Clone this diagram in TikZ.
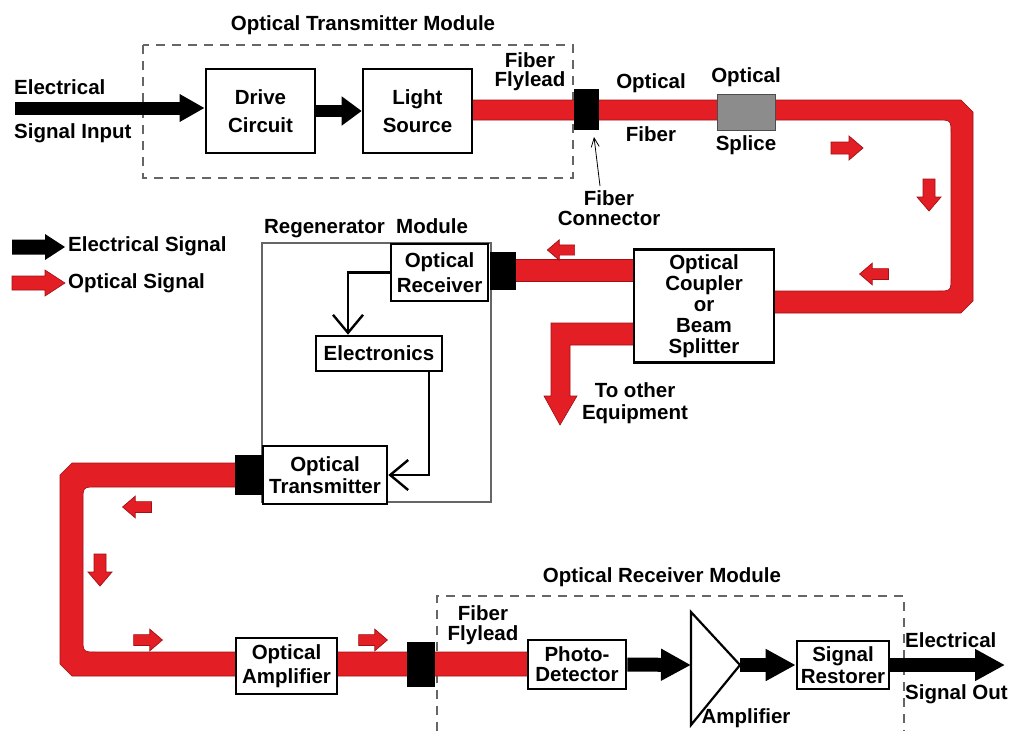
\documentclass[tikz,border=0pt]{standalone}
\usepackage{fontspec}
\setmainfont{Liberation Sans}
\usetikzlibrary{arrows.meta}
\definecolor{fibred}{HTML}{E31E24}
\definecolor{fibdark}{HTML}{A01015}
\definecolor{splgray}{HTML}{8C8C8C}
\newcommand{\tf}[1]{\fontsize{20.5}{#1}\selectfont\bfseries}
\tikzset{
  box/.style={draw, line width=2.6pt, fill=white, inner sep=0pt, align=center},
  lbl/.style={inner sep=0pt, align=center, font=\tf{22}},
  conn/.style={fill=black, inner sep=0pt},
  fib/.style={fill=fibred, draw=fibdark, line width=0.6pt},
  ebig/.style={line width=13pt, -{Triangle[length=25pt,width=26pt]}},
  emid/.style={line width=12pt, -{Triangle[length=20pt,width=28pt]}},
  erx/.style={line width=14pt, -{Triangle[length=30pt,width=30pt]}},
  eline/.style={line width=2.4pt, -{Straight Barb[length=18pt,width=30pt]}},
  dbox/.style={draw=black!60, line width=1.4pt, dash pattern=on 9pt off 7pt},
  sarrow/.pic={\filldraw[fill=fibred, draw=fibdark, line width=0.7pt]
     (-16,-6) -- (2,-6) -- (2,-12) -- (16,0) -- (2,12) -- (2,6) -- (-16,6) -- cycle;}
}
\begin{document}
\begin{tikzpicture}[x=1pt,y=-1pt]
\useasboundingbox (0,0) rectangle (1009,731);

% ---- module outlines
\draw[dbox] (143,45) rectangle (573,178);
\draw[dbox] (437,731) -- (437,596) -- (904,596) -- (904,731);
\draw[black!60, line width=1.3pt] (262,243) rectangle (491,502);

% ---- optical fibre bands
\filldraw[fib] (470,100) -- (961,100) -- (973,112) -- (973,301) -- (961,313) -- (770,313)
   -- (770,291) -- (937,291) .. controls (951,291) .. (951,277) -- (951,134)
   .. controls (951,120) .. (937,120) -- (470,120) -- cycle;
\filldraw[fib] (510,259) rectangle (640,281);
\filldraw[fib] (640,323) -- (551,323) -- (551,396) -- (544,396) -- (560,425) -- (577,396)
   -- (570,396) -- (570,345) -- (640,345) -- cycle;
\filldraw[fib] (240,463) -- (72,463) -- (60,475) -- (60,664) -- (72,676) -- (530,676)
   -- (530,652) -- (97,652) .. controls (83,652) .. (83,638) -- (83,501)
   .. controls (83,487) .. (97,487) -- (240,487) -- cycle;

% ---- small direction arrows
\pic at (847,148) {sarrow};
\pic[rotate=-90] at (929,195) {sarrow};
\pic[rotate=180, scale=0.9] at (874,274) {sarrow};
\pic[rotate=180, scale=0.85] at (561,250) {sarrow};
\pic[rotate=180, scale=0.9] at (137,507) {sarrow};
\pic[rotate=-90] at (100,570) {sarrow};
\pic[scale=0.9] at (148,640) {sarrow};
\pic[scale=0.9] at (373,640) {sarrow};

% ---- blocks
\node[box, minimum width=109pt, minimum height=84pt, font=\tf{28}] (drive) at (260.5,111) {Drive\\Circuit};
\node[box, minimum width=109pt, minimum height=84pt, font=\tf{28}] (light) at (417.5,111) {Light\\Source};
\node[conn, minimum width=25pt, minimum height=41pt] (c1) at (586.5,109.5) {};
\node[fill=splgray, draw=black!70, line width=1.5pt, inner sep=0pt, minimum width=58pt, minimum height=36pt] (splice) at (746.5,112.5) {};
\node[box, minimum width=97pt, minimum height=57pt, font=\tf{25}] (rx) at (439.5,272.5) {Optical\\Receiver};
\node[conn, minimum width=26pt, minimum height=38pt] (c2) at (503,271) {};
\node[box, minimum width=140pt, minimum height=113pt, font=\tf{21}] (coupler) at (704,306) {Optical\\Coupler\\or\\Beam\\Splitter};
\node[box, minimum width=126pt, minimum height=35pt, font=\tf{22}] (el) at (379,353.5) {Electronics};
\node[box, minimum width=124pt, minimum height=58pt, font=\tf{22}] (tx) at (325,475) {Optical\\Transmitter};
\node[conn, minimum width=28pt, minimum height=40pt] (c3) at (249,475) {};
\node[box, minimum width=101pt, minimum height=56pt, font=\tf{24}] (oamp) at (286.5,666) {Optical\\Amplifier};
\node[conn, minimum width=28pt, minimum height=45pt] (c4) at (421,664.5) {};
\node[box, minimum width=98pt, minimum height=49pt, font=\tf{20}] (pd) at (577,664.5) {Photo-\\Detector};
\node[box, minimum width=92pt, minimum height=48pt, font=\tf{22}] (sr) at (843,665) {Signal\\Restorer};

% amplifier triangle
\draw[line width=2.2pt, fill=white] (691,612) -- (740,665) -- (691,725) -- cycle;
\coordinate (ampin) at (691,665);
\coordinate (ampout) at (740,665);

% ---- electrical arrows
\coordinate (inS) at (15,108);
\coordinate (outE) at (1005,665);
\draw[ebig] (inS) -- (inS -| drive.west);
\draw[emid] (drive.east) -- (light.west);
\draw[erx] (pd.east) -- (ampin);
\draw[erx] (ampout) -- (sr.west);
\draw[erx] (sr.east) -- (outE);
\draw[eline] (rx.west) -| ([xshift=-31pt]el.north);
\draw[eline] ([xshift=50pt]el.south) |- (tx.east);

% fiber connector pointer
\coordinate (fcp) at (600,186);
\coordinate (fctip) at (594,137);
\draw[line width=0.8pt, -{Straight Barb[length=9pt,width=8pt]}] (fcp) -- (fctip);

% ---- legend
\fill[black] (12,239.5) -- (45,239.5) -- (45,234) -- (65,247) -- (45,260) -- (45,254.5) -- (12,254.5) -- cycle;
\filldraw[fill=fibred, draw=fibdark, line width=0.6pt] (12,276) -- (45,276) -- (45,270) -- (65,283) -- (45,296) -- (45,290) -- (12,290) -- cycle;

% ---- labels
\node[lbl] (tmod) at (363,25) {Optical Transmitter Module};
\node[lbl, anchor=west] (ein1) at (14,87) {Electrical};
\node[lbl, anchor=west] (ein2) at (14,133) {Signal Input};
\node[lbl, font=\tf{19}] (ffl1) at (530,72) {Fiber\\Flylead};
\node[lbl] (of1) at (651,83) {Optical};
\node[lbl] (of2) at (651,134) {Fiber};
\node[lbl] (sp1) at (746,77) {Optical};
\node[lbl] (sp2) at (746,145) {Splice};
\node[lbl, font=\tf{20}] (fct) at (609,208) {Fiber\\Connector};
\node[lbl, anchor=west] (leg1) at (68,246) {Electrical Signal};
\node[lbl, anchor=west] (leg2) at (68,283) {Optical Signal};
\node[lbl] (rmod) at (366,228) {Regenerator\ \ Module};
\node[lbl] (toeq) at (635,403) {To other\\Equipment};
\node[lbl, font=\tf{20}] (ffl2) at (483,625) {Fiber\\Flylead};
\node[lbl] (omod) at (662,577) {Optical Receiver Module};
\node[lbl] (ampl) at (746,718) {Amplifier};
\node[lbl, anchor=west] (eo1) at (905,640) {Electrical};
\node[lbl, anchor=west] (eo2) at (905,694) {Signal Out};
\end{tikzpicture}
\end{document}
